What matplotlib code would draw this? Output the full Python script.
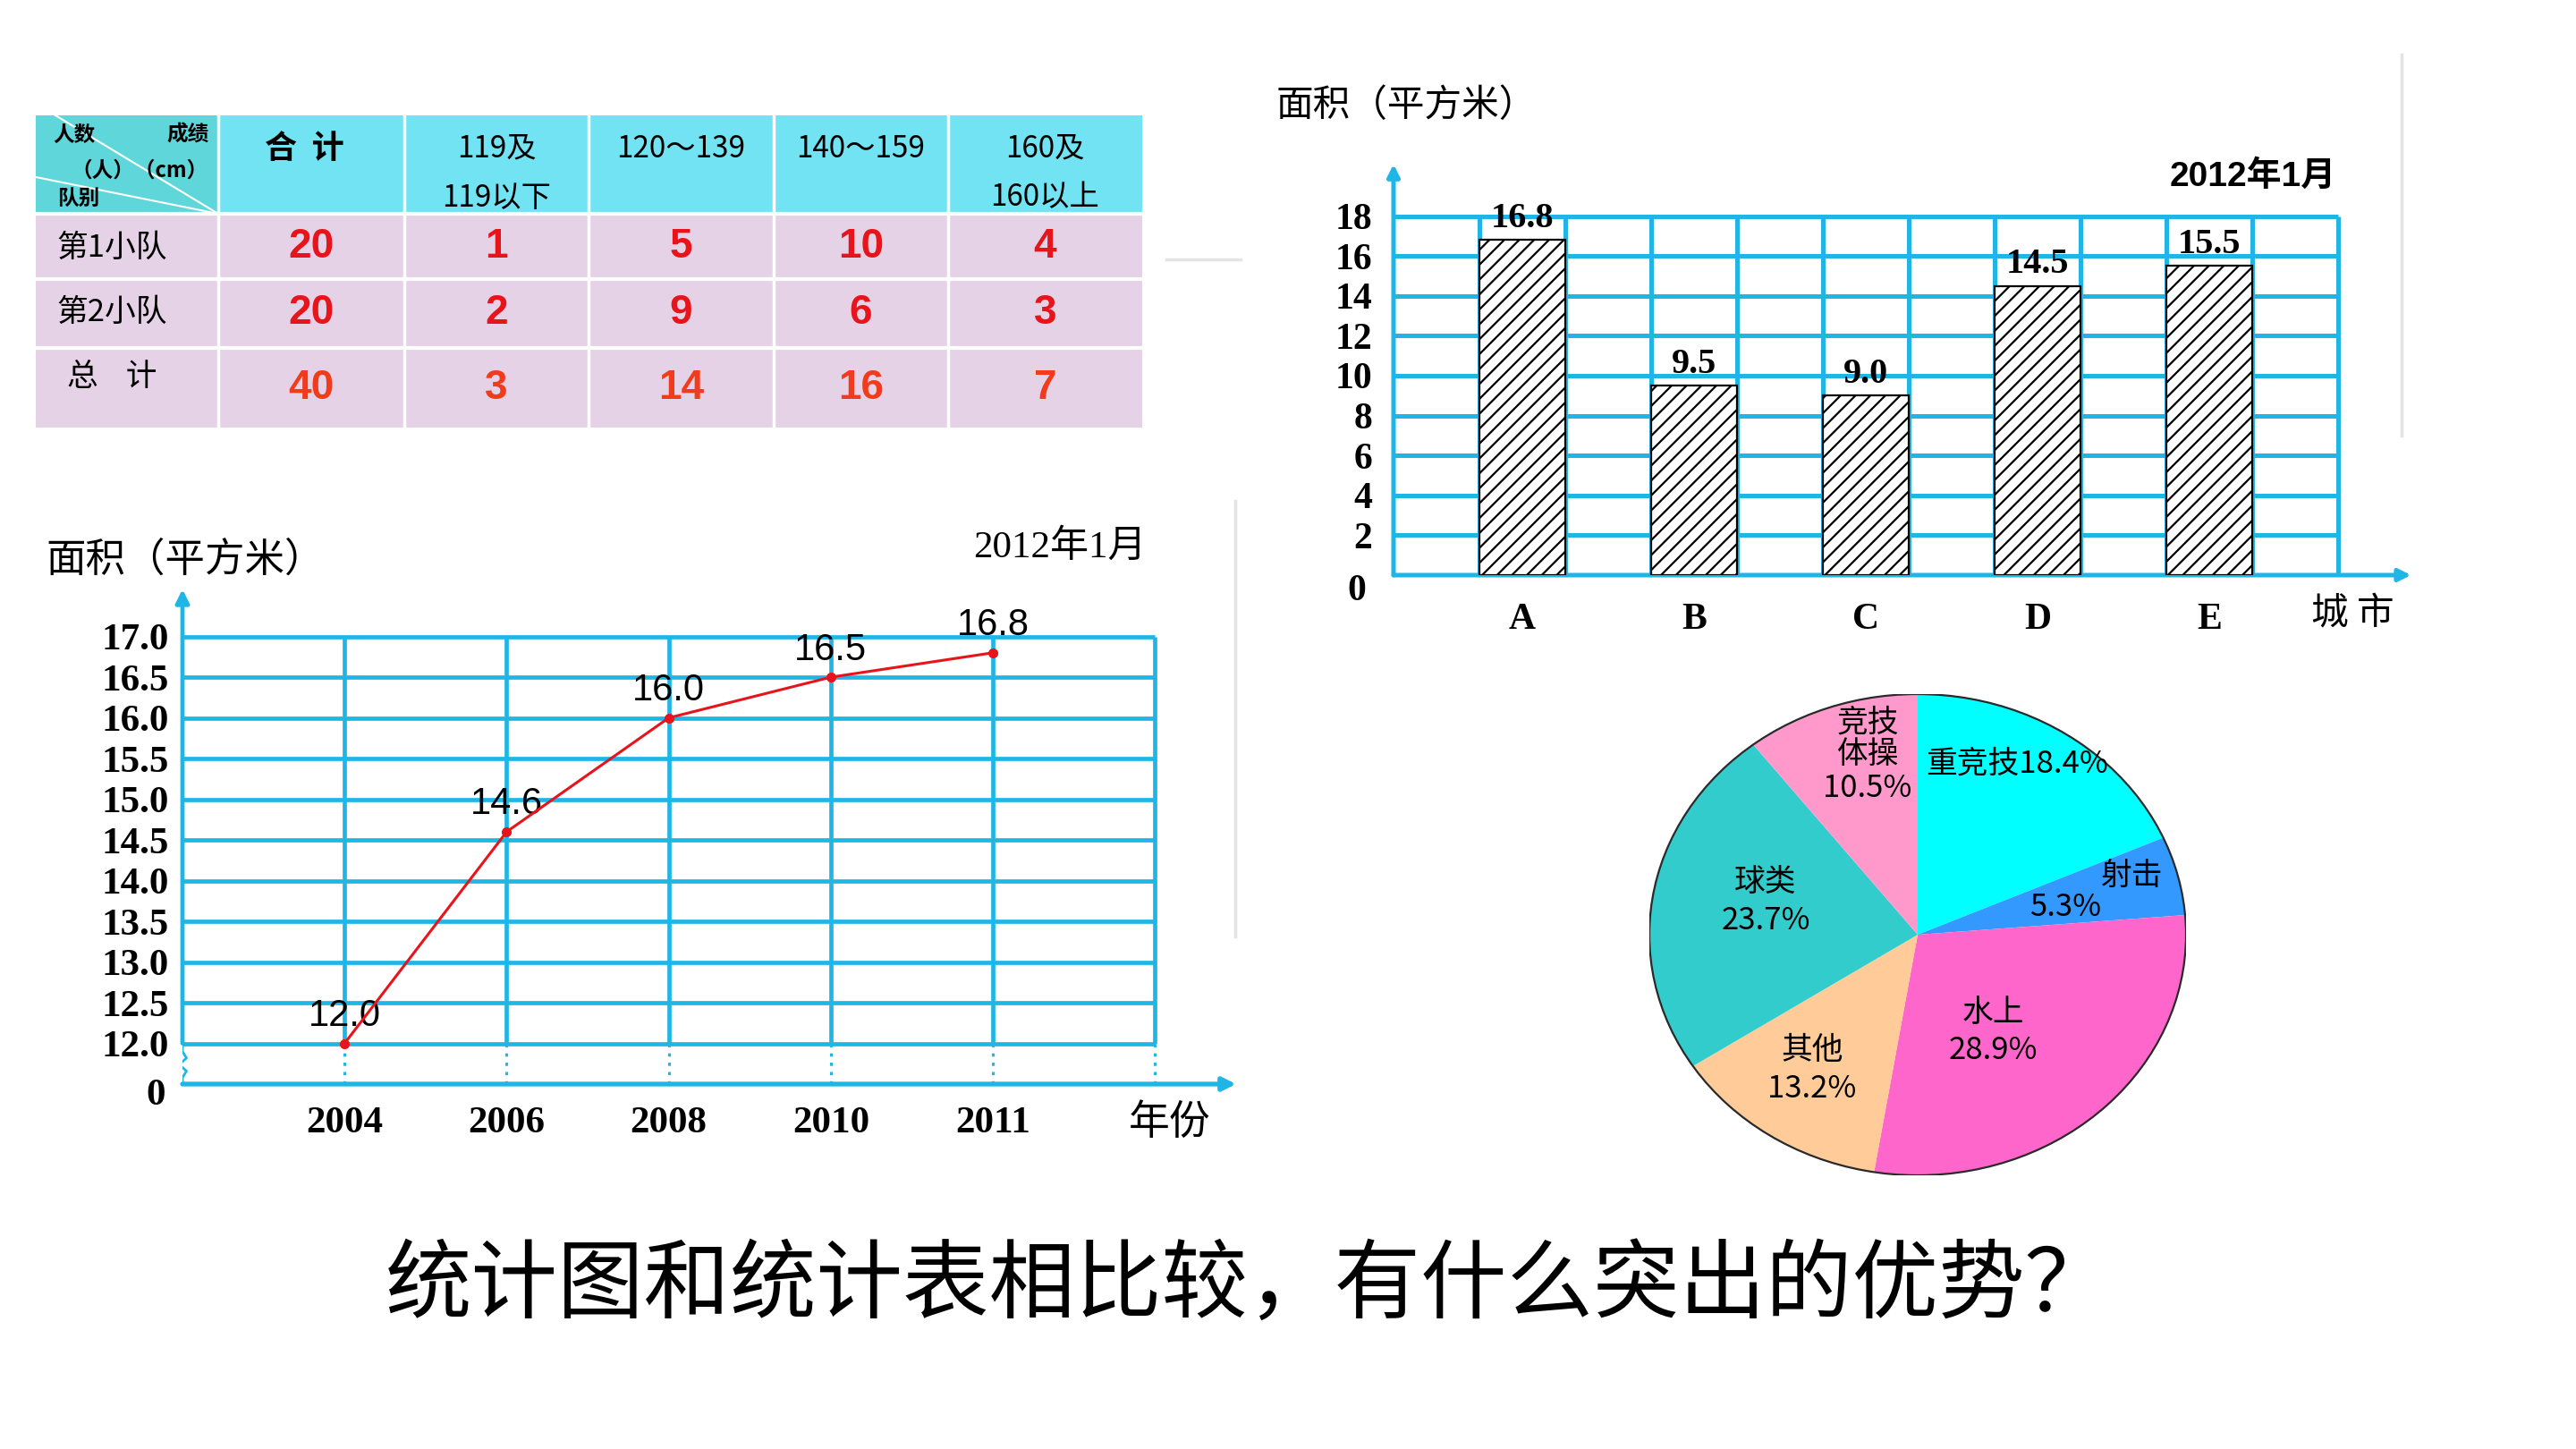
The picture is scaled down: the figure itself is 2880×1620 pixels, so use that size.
import numpy as np
import matplotlib
matplotlib.use('Agg')
import matplotlib.pyplot as plt
from matplotlib.patches import Rectangle, Ellipse

plt.rcParams['font.family'] = ['Noto Sans CJK SC', 'DejaVu Sans']
plt.rcParams['hatch.linewidth'] = 1.6
plt.rcParams['axes.unicode_minus'] = False

# ---------------- data ----------------
table_col_headers = ['合  计', '119及\n119以下', '120～139', '140～159', '160及\n160以上']
table_row_labels = ['第1小队', '第2小队', '总    计']
team1_counts = [20, 1, 5, 10, 4]
team2_counts = [20, 2, 9, 6, 3]
total_counts = [40, 3, 14, 16, 7]

line_years = ['2004', '2006', '2008', '2010', '2011']
line_area = [12.0, 14.6, 16.0, 16.5, 16.8]
line_yticks = [12.0, 12.5, 13.0, 13.5, 14.0, 14.5, 15.0, 15.5, 16.0, 16.5, 17.0]

bar_cities = ['A', 'B', 'C', 'D', 'E']
bar_area = [16.8, 9.5, 9.0, 14.5, 15.5]
bar_yticks = [2, 4, 6, 8, 10, 12, 14, 16, 18]

pie_names = ['重竞技', '射击', '水上', '其他', '球类', '竞技\n体操']
pie_shares = [18.4, 5.3, 28.9, 13.2, 23.7, 10.5]
pie_colors = ['#00ffff', '#3399ff', '#ff66cc', '#ffcc99', '#33cccc', '#ff99cc']

title_text = '统计图和统计表相比较，有什么突出的优势？'

# ---------------- layout ----------------
W, H = 2880, 1620
CY = '#1fb6e6'
RED = '#e8141b'
SERIF = ['Liberation Serif', 'DejaVu Serif']

fig = plt.figure(figsize=(W / 100, H / 100), dpi=100)
fig.patch.set_facecolor('white')

bg = fig.add_axes([0, 0, 1, 1])
bg.set_xlim(0, W)
bg.set_ylim(H, 0)
bg.axis('off')

# faint slide remnants
bg.plot([1381, 1381], [560, 1047], color='#e4e4e4', lw=2.5)
bg.plot([2685, 2685], [61, 487], color='#e4e4e4', lw=2.5)
bg.plot([1304, 1387], [290, 290], color='#e4e4e4', lw=2.5)

# ---------------- table ----------------
col_x = [40, 244, 452, 658, 865, 1060, 1277]
row_y = [129, 239, 312, 389, 478]
bg.add_patch(Rectangle((col_x[0], row_y[0]), col_x[1] - col_x[0], row_y[1] - row_y[0],
                       facecolor='#5fd6da', edgecolor='none'))
bg.add_patch(Rectangle((col_x[1], row_y[0]), col_x[-1] - col_x[1], row_y[1] - row_y[0],
                       facecolor='#72e3f2', edgecolor='none'))
bg.add_patch(Rectangle((col_x[0], row_y[1]), col_x[-1] - col_x[0], row_y[-1] - row_y[1],
                       facecolor='#e5d2e6', edgecolor='none'))
for x in col_x[1:-1]:
    bg.plot([x, x], [row_y[0], row_y[-1]], color='white', lw=2.5)
for y in row_y[1:-1]:
    bg.plot([col_x[0], col_x[-1]], [y, y], color='white', lw=3)
# diagonal header cell
bg.plot([62, col_x[1]], [row_y[0], row_y[1]], color='white', lw=1.5)
bg.plot([col_x[0], col_x[1]], [198, row_y[1]], color='white', lw=1.5)
bg.text(83, 151, '人数', fontsize=17, weight='bold', ha='center', va='center')
bg.text(210, 151, '成绩', fontsize=17, weight='bold', ha='center', va='center')
bg.text(156, 191, '（人）（cm）', fontsize=17, weight='bold', ha='center', va='center')
bg.text(88, 222, '队别', fontsize=17, weight='bold', ha='center', va='center')

for i, hdr in enumerate(table_col_headers):
    cx = (col_x[i + 1] + col_x[i + 2]) / 2 if i > 0 else 340
    lines = hdr.split('\n')
    for j, ln in enumerate(lines):
        bg.text(cx, 166 + 55 * j, ln, fontsize=26 if i == 0 else 24,
                weight='bold' if i == 0 else 'normal',
                ha='center', va='center')

row_counts = [team1_counts, team2_counts, total_counts]
row_colors = [RED, RED, '#f03c1c']
label_y = [277, 349, 422]
for r, (lab, vals) in enumerate(zip(table_row_labels, row_counts)):
    yc = (row_y[r + 1] + row_y[r + 2]) / 2
    bg.text(125, label_y[r], lab, fontsize=25, ha='center', va='center')
    for c, v in enumerate(vals):
        cx = (col_x[c + 1] + col_x[c + 2]) / 2
        bg.text(cx, yc, str(v), fontsize=33, weight='bold', color=row_colors[r],
                family=['Liberation Sans', 'DejaVu Sans'], ha='center', va='center')

# ---------------- line chart ----------------
ax1 = fig.add_axes([204 / W, 1 - 1212 / H, (1391 - 204) / W, (1212 - 657) / H])
ax1.set_facecolor('none')
ax1.set_xlim(-1, 5.55)
ax1.set_ylim(11.5, 17.6)
for s in ax1.spines.values():
    s.set_visible(False)
xs = np.arange(len(line_years))
xr = xs[-1] + 1
ax1.hlines(line_yticks, -1, xr, color=CY, lw=3.4, zorder=1)
ax1.vlines(list(xs) + [xr], line_yticks[0], line_yticks[-1], color=CY, lw=3.4, zorder=1)
ax1.vlines(list(xs) + [xr], 11.5, line_yticks[0], color=CY, lw=2.2,
           linestyles=(0, (1.2, 2.2)), zorder=1)
ax1.annotate('', xy=(-1, 17.58), xytext=(-1, 12.0),
             arrowprops=dict(arrowstyle='-|>', color=CY, lw=3.4, mutation_scale=22,
                             shrinkA=0, shrinkB=0))
ax1.annotate('', xy=(5.5, 11.5), xytext=(-1, 11.5),
             arrowprops=dict(arrowstyle='-|>', color=CY, lw=3.8, mutation_scale=22,
                             shrinkA=0, shrinkB=0))
ax1.plot([-1, -1, -0.975, -1.02, -0.975, -1.0, -1.0],
         [11.5, 11.58, 11.66, 11.74, 11.82, 11.9, 12.0], color=CY, lw=2)
ax1.plot(xs, line_area, color=RED, lw=2.2, marker='o', ms=7, zorder=5)
for x, v in zip(xs, line_area):
    ax1.annotate(f'{v:.1f}', (x, v), xytext=(0, 22), textcoords='offset points',
                 ha='center', va='center', fontsize=30,
                 family=['Liberation Sans', 'DejaVu Sans'])
ax1.set_yticks(line_yticks, labels=[f'{t:.1f}' for t in line_yticks])
ax1.set_xticks(xs, labels=line_years)
ax1.tick_params(axis='both', length=0)
ax1.tick_params(axis='y', pad=11)
ax1.tick_params(axis='x', pad=18)
for lab in ax1.get_yticklabels() + ax1.get_xticklabels():
    lab.set_family(SERIF)
    lab.set_weight('bold')
    lab.set_fontsize(31)
bg.text(174, 1225, '0', family=SERIF, weight='bold', fontsize=31, ha='center', va='center')
bg.text(51, 626, '面积（平方米）', fontsize=32, ha='left', va='center')
bg.text(1282, 612, '2012年1月', fontsize=31, ha='right', va='center',
        family=SERIF[:1] + ['Noto Sans CJK SC'])
bg.text(1308, 1255, '年份', fontsize=33, ha='center', va='center')

# ---------------- bar chart ----------------
ax2 = fig.add_axes([1558 / W, 1 - 643 / H, 11.9 * 96 / W, 20.8 * 22.3 / H])
ax2.set_facecolor('none')
ax2.set_xlim(0, 11.9)
ax2.set_ylim(0, 20.8)
for s in ax2.spines.values():
    s.set_visible(False)
ncol = 2 * len(bar_cities) + 1
ax2.hlines(bar_yticks, 0, ncol, color=CY, lw=3.6, zorder=1)
ax2.vlines(np.arange(1, ncol + 1), 0, bar_yticks[-1], color=CY, lw=3.6, zorder=1)
ax2.annotate('', xy=(0, 20.6), xytext=(0, 0),
             arrowprops=dict(arrowstyle='-|>', color=CY, lw=3.6, mutation_scale=20,
                             shrinkA=0, shrinkB=0))
ax2.annotate('', xy=(11.85, 0), xytext=(0, 0),
             arrowprops=dict(arrowstyle='-|>', color=CY, lw=3.6, mutation_scale=20,
                             shrinkA=0, shrinkB=0))
bx = np.arange(len(bar_cities)) * 2 + 1.5
ax2.bar(bx, bar_area, width=1, facecolor='white', edgecolor='black', hatch='//',
        lw=1.6, zorder=3)
for x, v in zip(bx, bar_area):
    ax2.annotate(f'{v:.1f}', (x, v), xytext=(0, 4), textcoords='offset points',
                 ha='center', va='bottom', fontsize=29, family=SERIF, weight='bold')
ax2.set_yticks(bar_yticks, labels=[str(t) for t in bar_yticks])
ax2.set_xticks(bx, labels=bar_cities)
ax2.tick_params(axis='both', length=0)
ax2.tick_params(axis='y', pad=17)
ax2.tick_params(axis='x', pad=22)
for lab in ax2.get_yticklabels() + ax2.get_xticklabels():
    lab.set_family(SERIF)
    lab.set_weight('bold')
    lab.set_fontsize(30)
bg.text(1517, 661, '0', family=SERIF, weight='bold', fontsize=30, ha='center', va='center')
bg.text(1427, 119, '面积（平方米）', fontsize=30, ha='left', va='center')
bg.text(2612, 198, '2012年1月', fontsize=28, weight='bold', ha='right', va='center',
        family=['Liberation Sans', 'Noto Sans CJK SC'])
bg.text(2630, 687, '城 市', fontsize=30, ha='center', va='center')

# ---------------- pie chart ----------------
ax3 = fig.add_axes([(2144 - 300) / W, 1 - (1045 + 269) / H, 600 / W, 538 / H])
ax3.pie(pie_shares, colors=pie_colors, startangle=90, counterclock=False,
        wedgeprops=dict(linewidth=0))
ax3.set_aspect('auto')
ax3.set_xlim(-1, 1)
ax3.set_ylim(-1, 1)
ax3.add_patch(Ellipse((0, 0), 2, 2, fill=False, edgecolor='#2a2a2a', lw=1.6))
pie_name_pos = [(0.37, 0.71), (0.80, 0.245), (0.28, -0.327), (-0.393, -0.483),
                (-0.567, 0.219), (-0.187, 0.814)]
pie_pct_pos = [None, (0.55, 0.115), (0.28, -0.483), (-0.393, -0.643),
               (-0.567, 0.056), (-0.187, 0.606)]
for name, share, npos, ppos in zip(pie_names, pie_shares, pie_name_pos, pie_pct_pos):
    if ppos is None:
        ax3.text(*npos, f'{name}{share}%', fontsize=25, ha='center', va='center')
    else:
        ax3.text(*npos, name, fontsize=25, ha='center', va='center', linespacing=1.0)
        ax3.text(*ppos, f'{share}%', fontsize=25, ha='center', va='center')

# ---------------- title ----------------
bg.text(1396, 1438, title_text, fontsize=69.5, ha='center', va='center')

fig.savefig('out.png', dpi=100, facecolor='white')
